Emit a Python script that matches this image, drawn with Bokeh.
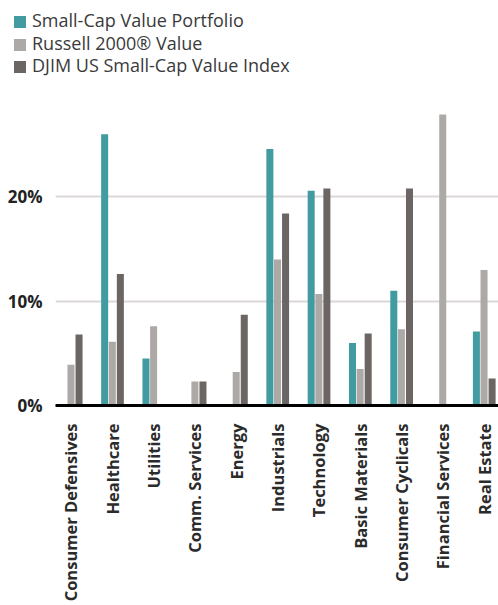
import math
from bokeh.plotting import figure
from bokeh.layouts import column
from bokeh.models import (ColumnDataSource, Range1d, FixedTicker, Div,
                          PrintfTickFormatter)
from bokeh.transform import dodge
from bokeh.embed import file_html
from bokeh.resources import INLINE

categories = ["Consumer Defensives", "Healthcare", "Utilities", "Comm. Services", "Energy",
              "Industrials", "Technology", "Basic Materials", "Consumer Cyclicals",
              "Financial Services", "Real Estate"]
portfolio = [0.0, 26.0, 4.5, 0.0, 0.0, 24.6, 20.6, 6.0, 11.0, 0.0, 7.1]
russell = [3.9, 6.1, 7.6, 2.3, 3.2, 14.0, 10.7, 3.5, 7.3, 27.9, 13.0]
djim = [6.8, 12.6, 0.0, 2.3, 8.7, 18.4, 20.8, 6.9, 20.8, 0.0, 2.6]
series_names = ["Small-Cap Value Portfolio", "Russell 2000\u00ae Value", "DJIM US Small-Cap Value Index"]
y_ticks = [0, 10, 20]

colors = ["#429BA0", "#ADA9A6", "#6B6663"]
FONT = "Open Sans"

src = ColumnDataSource(dict(idx=list(range(len(categories))), portfolio=portfolio,
                            russell=russell, djim=djim))

# ---------------- main chart ----------------
p = figure(width=498, height=527, output_backend="svg", toolbar_location=None,
           x_range=Range1d(-0.375, 10.35), y_range=Range1d(0, 31.35),
           min_border_left=55, min_border_right=0, min_border_top=0, min_border_bottom=200,
           margin=(0, 0, 0, 0))
p.outline_line_color = None
p.background_fill_color = "white"

off = 0.185
bw = 0.17
fields = ["portfolio", "russell", "djim"]
offsets = [-off, 0.0, off + 0.01]
for f, o, c in zip(fields, offsets, colors):
    p.vbar(x=dodge("idx", o, range=p.x_range), top=f, width=bw, source=src,
           fill_color=c, line_color=None)

xa = p.xaxis[0]
xa.ticker = FixedTicker(ticks=list(range(len(categories))))
xa.major_label_overrides = {i: c for i, c in enumerate(categories)}
xa.major_label_orientation = math.pi / 2
xa.major_label_text_font = FONT
xa.major_label_text_font_style = "bold"
xa.major_label_text_font_size = "16.5px"
xa.major_label_text_color = "#2b2b2b"
xa.major_label_standoff = 12
xa.major_tick_line_color = None
xa.minor_tick_line_color = None
xa.axis_line_color = "black"
xa.axis_line_width = 3

ya = p.yaxis[0]
ya.ticker = FixedTicker(ticks=y_ticks)
ya.formatter = PrintfTickFormatter(format="%d%%")
ya.axis_line_color = None
ya.major_tick_line_color = None
ya.minor_tick_line_color = None
ya.major_label_text_font = FONT
ya.major_label_text_font_style = "bold"
ya.major_label_text_font_size = "17px"
ya.major_label_text_color = "#222222"
ya.major_label_standoff = 7

p.xgrid.grid_line_color = None
p.ygrid.grid_line_color = "#DCD7D7"
p.ygrid.grid_line_width = 2

# ---------------- legend (HTML text) ----------------
rows = "".join(
    '<div style="white-space:nowrap;">'
    '<span style="display:inline-block;width:12px;height:12px;background:%s;'
    'margin-right:6px;vertical-align:-1px;"></span>%s</div>' % (c, n)
    for c, n in zip(colors, series_names)
)
legend_div = Div(
    text='<div style="font-family:\'Open Sans\';font-size:18px;color:#3a3a3a;'
         'line-height:22.5px;padding:9px 0 0 14px;margin:0;">%s</div>' % rows,
    width=498, height=78, margin=(0, 0, 0, 0))

layout = column(legend_div, p, spacing=0, margin=(0, 0, 0, 0))
open("out.html", "w").write(file_html(layout, INLINE))
